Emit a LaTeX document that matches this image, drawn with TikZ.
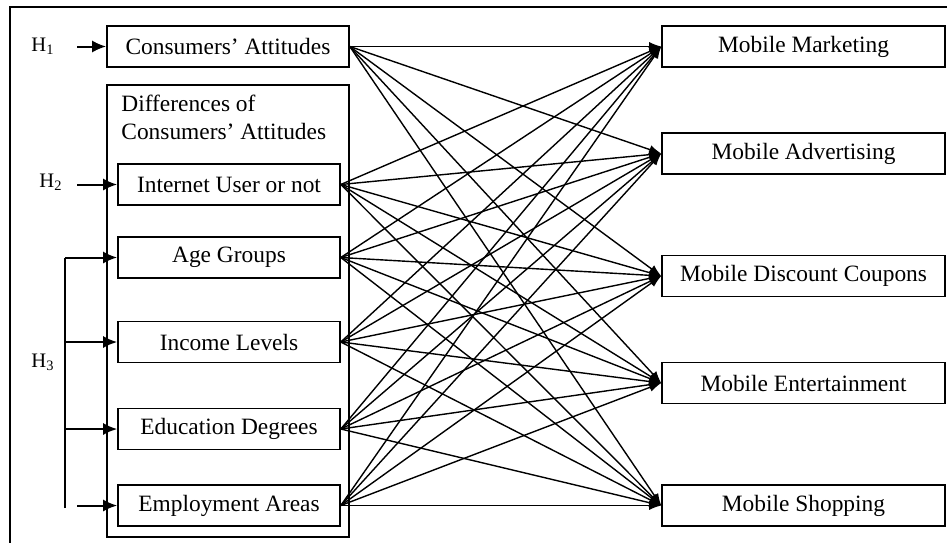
\documentclass[tikz,border=0pt]{standalone}
\usepackage{fontspec}
\setmainfont{Liberation Serif}
\usetikzlibrary{arrows.meta}
\begin{document}
\begin{tikzpicture}[x=0.5pt,y=-0.5pt,
  box/.style={draw,line width=0.8pt,inner sep=0pt,font=\fontsize{11.7}{14}\selectfont},
  lbox/.style={box,minimum width=121pt,minimum height=20.5pt},
  sbox/.style={box,minimum width=111pt,minimum height=20.5pt},
  rbox/.style={box,minimum width=141.5pt,minimum height=20.5pt},
  link/.style={line width=0.7pt,-{Latex[length=6pt,width=4.5pt]}},
  harrow/.style={line width=1pt,-{Latex[length=7pt,width=6pt]}},
  hline/.style={line width=1pt},
  hlab/.style={inner sep=0pt,font=\fontsize{10.3}{12}\selectfont}]
\useasboundingbox (0,0) rectangle (947,542);
\draw[line width=0.8pt] (10,7) rectangle (1000,600);
% left column
\node[lbox] (ca) at (228,46.5) {Consumers’ Attitudes};
\node[draw,line width=0.8pt,inner sep=0pt,minimum width=121pt,minimum height=226pt] (diff) at (228,311) {};
\node[inner sep=0pt,anchor=north west,align=left,font=\fontsize{11.7}{14}\selectfont] (difftxt) at (121,95) {Differences of\\Consumers’ Attitudes};
\node[sbox] (inet) at (229,184.5) {Internet User or not};
\node[sbox] (age) at (229,257.5) {Age Groups};
\node[sbox] (inc) at (229,342) {Income Levels};
\node[sbox] (edu) at (229,429) {Education Degrees};
\node[sbox] (emp) at (229,505.5) {Employment Areas};
% right column
\node[rbox] (mm) at (803.5,46.5) {Mobile Marketing};
\node[rbox] (ma) at (803.5,153.5) {Mobile Advertising};
\node[rbox] (mc) at (803.5,276) {Mobile Discount Coupons};
\node[rbox] (me) at (803.5,383) {Mobile Entertainment};
\node[rbox] (ms) at (803.5,505.5) {Mobile Shopping};
% links
\foreach \s in {ca,inet,age,inc,edu,emp}
  \foreach \t in {mm,ma,mc,me,ms}
    \draw[link] (\s.east) -- (\t.west);
% hypotheses
\node[hlab] (h1) at (43,46) {H\textsubscript{1}};
\node[hlab] (h2) at (51,182) {H\textsubscript{2}};
\node[hlab] (h3) at (43,362) {H\textsubscript{3}};
\coordinate (h1s) at (77,46.5);
\coordinate (h2s) at (77,184.5);
\coordinate (btop) at (65,257.5);
\coordinate (bmid1) at (65,342);
\coordinate (bmid2) at (65,429);
\coordinate (bbot) at (65,508);
\coordinate (h3s) at (77,505.5);
\draw[harrow] (h1s) -- (ca.west);
\draw[harrow] (h2s) -- (inet.west);
\draw[hline] (bbot) -- (btop);
\draw[harrow] (btop) -- (age.west);
\draw[harrow] (bmid1) -- (inc.west);
\draw[harrow] (bmid2) -- (edu.west);
\draw[harrow] (h3s) -- (emp.west);
\end{tikzpicture}
\end{document}
